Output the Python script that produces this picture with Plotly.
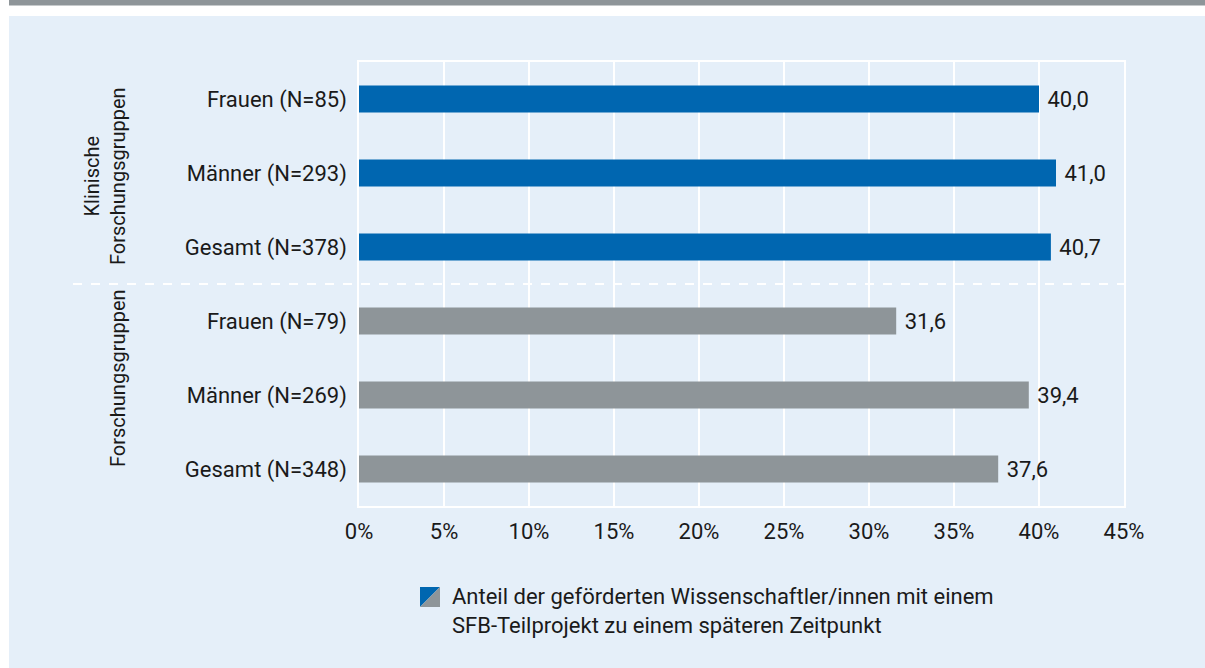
import plotly.graph_objects as go

categories = ["Frauen (N=85)", "Männer (N=293)", "Gesamt (N=378)",
              "Frauen (N=79)", "Männer (N=269)", "Gesamt (N=348)"]
values = [40.0, 41.0, 40.7, 31.6, 39.4, 37.6]
groups = ["Klinische<br>Forschungsgruppen", "Forschungsgruppen"]
x_ticks = [0, 5, 10, 15, 20, 25, 30, 35, 40, 45]
x_tick_labels = [f"{t}%" for t in x_ticks]
legend_text = ("Anteil der geförderten Wissenschaftler/innen mit einem<br>"
               "SFB-Teilprojekt zu einem späteren Zeitpunkt")

BLUE = "#0066b0"
GRAY = "#8e9599"
PANEL = "#e5eff9"
FONT = "Roboto"
TXT = "#1a1a1a"
FS = 22
FS_GROUP = 20

colors = [BLUE] * 3 + [GRAY] * 3

W, H = 1205, 668
L, R, T, B = 359, 1124, 62, 506


def px(x):
    return (x - L) / (R - L)


def py(y):
    return (B - y) / (B - T)


fig = go.Figure()
fig.add_trace(go.Bar(
    y=categories, x=values, orientation="h",
    marker=dict(color=colors, line=dict(width=0)),
    width=0.365,
    text=[" " + f"{v:.1f}".replace(".", ",") for v in values],
    textposition="outside", cliponaxis=False,
    textfont=dict(family=FONT, size=FS, color=TXT),
    showlegend=False, hoverinfo="skip",
))

shapes = [
    # panel background
    dict(type="rect", xref="paper", yref="paper", layer="below",
         x0=px(9), x1=px(W + 5), y0=py(H + 5), y1=py(16),
         fillcolor=PANEL, line=dict(width=0)),
    # top grey band
    dict(type="rect", xref="paper", yref="paper", layer="below",
         x0=px(9), x1=px(W + 5), y0=py(5.5), y1=py(-5),
         fillcolor=GRAY, line=dict(width=0)),
    # dashed separator
    dict(type="line", xref="paper", yref="y", layer="above",
         x0=px(73), x1=1, y0=2.5, y1=2.5,
         line=dict(color="white", width=2, dash="dash")),
    # legend icon
    dict(type="path", xref="paper", yref="paper", layer="above",
         path=f"M {px(420)},{py(607)} L {px(420)},{py(587)} L {px(440)},{py(587)} Z",
         fillcolor=BLUE, line=dict(width=0)),
    dict(type="path", xref="paper", yref="paper", layer="above",
         path=f"M {px(420)},{py(607)} L {px(440)},{py(607)} L {px(440)},{py(587)} Z",
         fillcolor=GRAY, line=dict(width=0)),
]

annotations = [
    dict(text=groups[0], xref="paper", yref="paper", x=px(105), y=py(176),
         textangle=-90, showarrow=False, align="center",
         font=dict(family=FONT, size=FS_GROUP, color=TXT), xanchor="center", yanchor="middle"),
    dict(text=groups[1], xref="paper", yref="paper", x=px(118), y=py(378),
         textangle=-90, showarrow=False, align="center",
         font=dict(family=FONT, size=FS_GROUP, color=TXT), xanchor="center", yanchor="middle"),
    dict(text=legend_text, xref="paper", yref="paper", x=px(450), y=py(611),
         showarrow=False, align="left", xanchor="left", yanchor="middle",
         font=dict(family=FONT, size=FS, color=TXT)),
]

fig.update_layout(
    width=W, height=H,
    margin=dict(l=L, r=W - R, t=T, b=H - B, pad=0),
    paper_bgcolor="white", plot_bgcolor="rgba(0,0,0,0)",
    shapes=shapes, annotations=annotations,
    bargap=0.635,
    font=dict(family=FONT, size=FS, color=TXT),
    xaxis=dict(range=[0, 45], tickvals=x_ticks, ticktext=x_tick_labels,
               showgrid=True, gridcolor="white", gridwidth=1.5,
               showline=True, linecolor="white", linewidth=1.5, mirror=True,
               zeroline=False, ticks="", ticklabelstandoff=5,
               tickfont=dict(family=FONT, size=FS, color=TXT), fixedrange=True),
    yaxis=dict(categoryorder="array", categoryarray=categories,
               autorange="reversed", showgrid=False,
               showline=True, linecolor="white", linewidth=1.5, mirror=True,
               ticks="", ticklabelstandoff=6,
               tickfont=dict(family=FONT, size=FS, color=TXT), fixedrange=True),
)

fig.write_html(
    "out.html",
    config={"displayModeBar": False},
    post_script="document.body.style.margin='0';document.body.style.overflow='hidden';",
)
